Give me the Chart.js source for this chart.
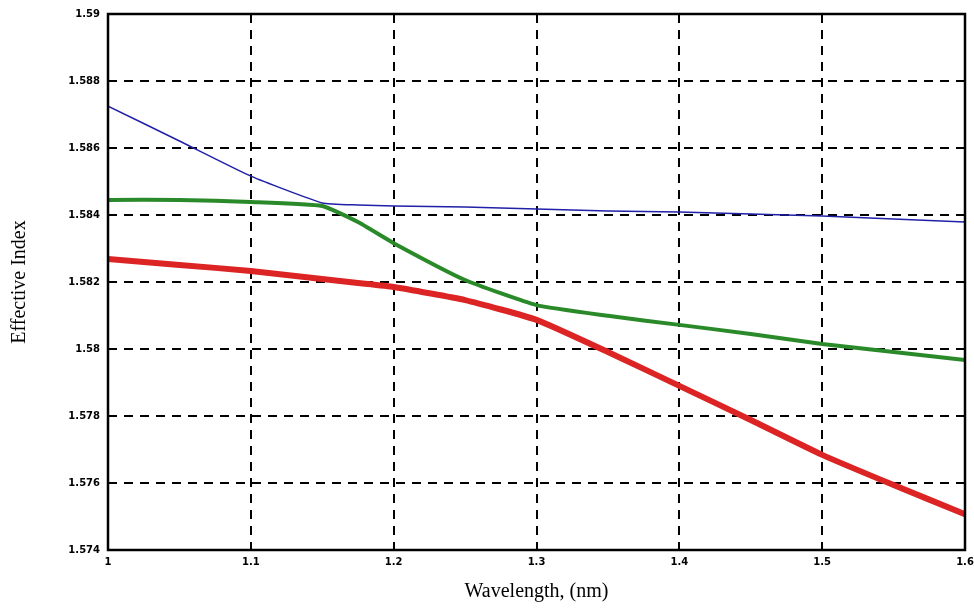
<!DOCTYPE html>
<html>
<head>
<meta charset="utf-8">
<script src="https://cdn.jsdelivr.net/npm/chart.js@4.4.0/dist/chart.umd.min.js"></script>
<style>
  html, body { margin: 0; padding: 0; background: #fff; }
  #wrap { width: 974px; height: 616px; }
</style>
</head>
<body>
<div id="wrap"><canvas id="chartId" width="974" height="616"></canvas></div>
<script>
// wavelength samples (x axis)
const wavelengths = [1.0, 1.05, 1.1, 1.15, 1.175, 1.2, 1.25, 1.3, 1.35, 1.4, 1.45, 1.5, 1.55, 1.6];

// effective index
const blueIndex  = [1.58725, 1.58621, 1.58516, 1.58436, 1.58430, 1.58427, 1.58424, 1.58418, 1.58412, 1.58409, 1.58403, 1.58397, 1.58388, 1.58379];
const greenIndex = [1.58445, 1.58445, 1.58439, 1.58427, 1.58379, 1.58316, 1.58206, 1.58131, 1.58099, 1.58072, 1.58045, 1.58015, 1.57991, 1.57967];
const redIndex   = [1.58269, 1.58251, 1.58233, 1.58209, 1.58197, 1.58185, 1.58146, 1.58087, 1.57991, 1.57890, 1.57788, 1.57684, 1.57594, 1.57507];

const xTicks = [1, 1.1, 1.2, 1.3, 1.4, 1.5, 1.6];
const yTicks = [1.574, 1.576, 1.578, 1.58, 1.582, 1.584, 1.586, 1.588, 1.59];

function toPoints(ys) {
    return wavelengths.map(function(x, i) { return { x: x, y: ys[i] }; });
}

// box round the plot area (top and right sides too)
const frame = {
    id: 'frame',
    afterDatasetsDraw(chart) {
        const a = chart.chartArea;
        const c = chart.ctx;
        c.save();
        c.strokeStyle = '#000';
        c.lineWidth = 2.5;
        c.setLineDash([]);
        c.strokeRect(a.left, a.top, a.right - a.left, a.bottom - a.top);
        c.restore();
    }
};

var chrt = document.getElementById('chartId').getContext('2d');
var chart = new Chart(chrt, {
    type: 'line',
    data: {
        datasets: [
            { label: 'mode 1', data: toPoints(blueIndex),  borderColor: '#2020a8', borderWidth: 1.5, pointRadius: 0, tension: 0.15 },
            { label: 'mode 2', data: toPoints(greenIndex), borderColor: '#2a8a2a', borderWidth: 4,   pointRadius: 0, tension: 0.15 },
            { label: 'mode 3', data: toPoints(redIndex),   borderColor: '#dc2424', borderWidth: 6,   pointRadius: 0, tension: 0.15 }
        ]
    },
    options: {
        responsive: false,
        animation: false,
        layout: { padding: { left: 0, right: 0, top: 14, bottom: 0 } },
        plugins: { legend: { display: false }, tooltip: { enabled: false } },
        scales: {
            x: {
                type: 'linear',
                min: 1, max: 1.6,
                afterFit(scale) { scale.height = 66; scale.paddingRight = 9; },
                afterBuildTicks(scale) { scale.ticks = xTicks.map(v => ({ value: v })); },
                grid: { color: '#000', lineWidth: 2, drawTicks: false },
                border: { display: false, dash: [9, 7] },
                ticks: {
                    color: '#000', padding: 6,
                    font: { family: 'DejaVu Sans', size: 10, weight: 'bold' },
                    callback: v => String(Number(v.toFixed(2)))
                },
                title: {
                    display: true, text: 'Wavelength, (nm)', color: '#000',
                    font: { family: 'Liberation Serif', size: 20 },
                    padding: { top: 0, bottom: 12 }
                }
            },
            y: {
                min: 1.574, max: 1.59,
                afterFit(scale) { scale.width = 108; },
                afterBuildTicks(scale) { scale.ticks = yTicks.map(v => ({ value: v })); },
                grid: { color: '#000', lineWidth: 2, drawTicks: false },
                border: { display: false, dash: [9, 7] },
                ticks: {
                    color: '#000', padding: 8,
                    font: { family: 'DejaVu Sans', size: 10, weight: 'bold' },
                    callback: v => String(Number(v.toFixed(3)))
                },
                title: {
                    display: true, text: 'Effective Index', color: '#000',
                    font: { family: 'Liberation Serif', size: 20 },
                    padding: { top: 8, bottom: 0 }
                }
            }
        }
    },
    plugins: [frame]
});
</script>
</body>
</html>
